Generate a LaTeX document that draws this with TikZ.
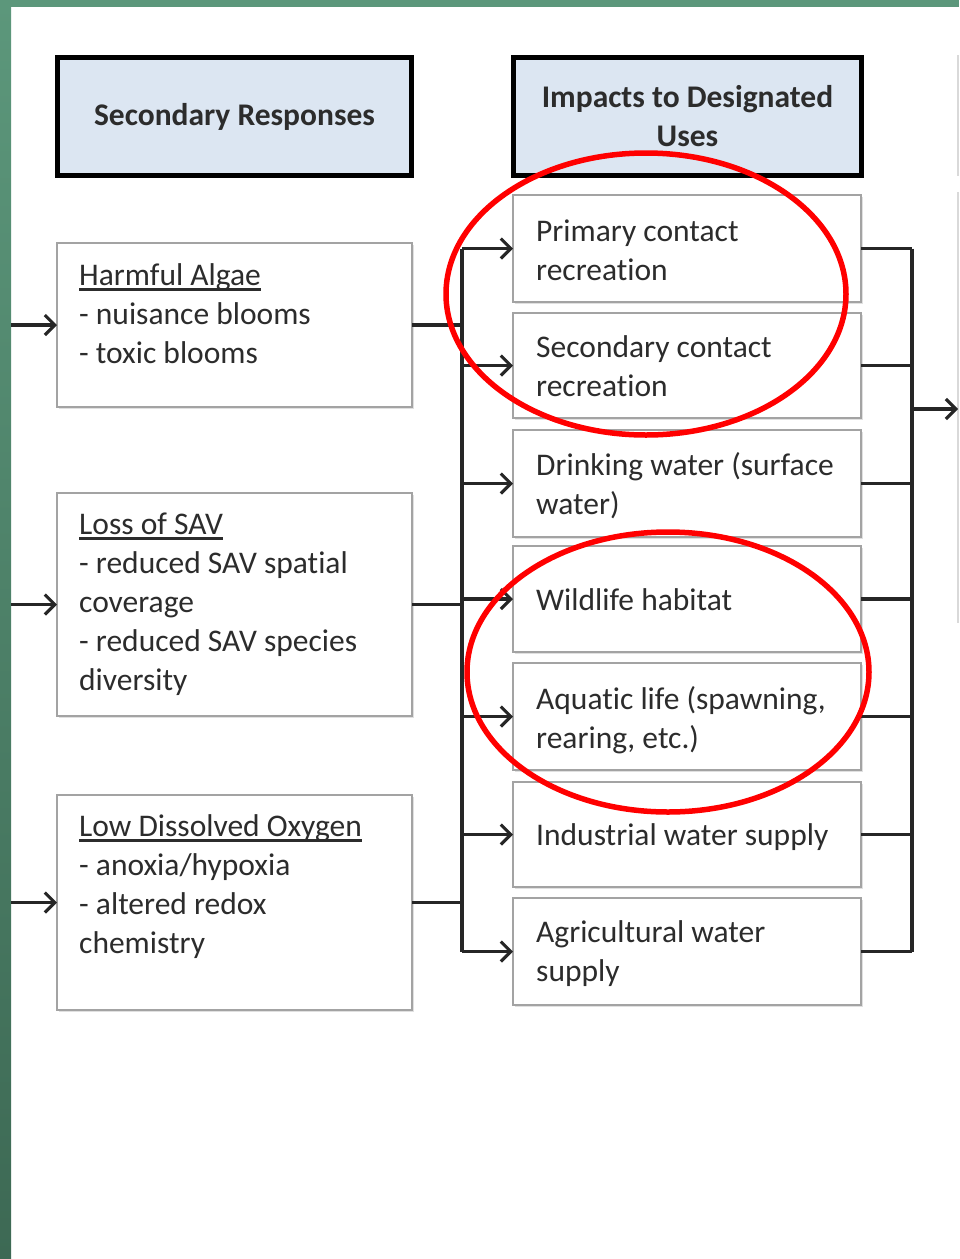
\documentclass[tikz,border=0pt]{standalone}
\usepackage{fontspec}
\setmainfont{Carlito}[Ligatures=NoCommon]
\usetikzlibrary{arrows.meta,shadows}

\definecolor{slidegreen}{HTML}{5C977B}
\definecolor{slidegreendark}{HTML}{3D6954}
\definecolor{headfill}{HTML}{DCE6F2}
\definecolor{boxline}{HTML}{A3A3A3}
\definecolor{ink}{HTML}{2C2C2C}
\definecolor{wire}{HTML}{262626}
\definecolor{edgegrey}{HTML}{D9D9D9}

% underlined box title with a thick rule just below the baseline
\newcommand{\undl}[1]{\leavevmode\setbox0\hbox{#1}\rlap{\rule[-5.5pt]{\wd0}{2.5pt}}\box0}

\begin{document}
\begin{tikzpicture}[x=1pt,y=-1pt,
  header/.style={draw=black, line width=4.5pt, fill=headfill, anchor=north west,
    inner sep=0pt, outer sep=0pt, text=ink, align=center,
    font=\bfseries\fontsize{31.5}{39}\selectfont,
    drop shadow={shadow xshift=1.5pt, shadow yshift=-1.5pt, fill=black, opacity=0.18}},
  itembox/.style={draw=boxline, line width=2.2pt, fill=white, anchor=north west,
    inner sep=0pt, outer sep=0pt,
    drop shadow={shadow xshift=1.5pt, shadow yshift=-1.5pt, fill=black, opacity=0.12}},
  txt/.style={anchor=base west, inner sep=0pt, text=ink,
    font=\fontsize{31.5}{39}\selectfont},
  wireline/.style={draw=wire, line width=3.1pt},
  feed/.style={wireline, -{Straight Barb[length=10pt, width=20pt, line width=3.1pt]}},
  ringmark/.style={draw=red, line width=5.5pt}
]
\useasboundingbox (0,0) rectangle (959,1259);
\fill[white] (0,0) rectangle (959,1259);

% slide frame
\fill[slidegreen] (0,0) rectangle (959,7);
\shade[top color=slidegreen, bottom color=slidegreendark] (0,0) rectangle (11,1259);

% edges of boxes cut off at the right
\draw[edgegrey, line width=1.2pt] (958,55) -- (958,176);
\draw[edgegrey, line width=1.2pt] (958,192) -- (958,623);

% column headers
\node[header, minimum width=354pt, minimum height=118pt] (h1) at (57.5,57.5) {Secondary Responses};
\node[header, minimum width=348pt, minimum height=118pt] (h2) at (513.5,57.5) {Impacts to Designated\\Uses};

% secondary responses
\node[itembox, minimum width=355pt, minimum height=164pt] (ha) at (57,243) {};
\node[itembox, minimum width=355pt, minimum height=223pt] (sav) at (57,493) {};
\node[itembox, minimum width=355pt, minimum height=215pt] (ldo) at (57,795) {};

\node[txt] (ha-t) at (79,285) {\parbox[t]{320pt}{\raggedright\undl{Harmful Algae}\\- nuisance blooms\\- toxic blooms}};
\node[txt] (sav-t) at (79,534) {\parbox[t]{320pt}{\raggedright\undl{Loss of SAV}\\- reduced SAV spatial\\coverage\\- reduced SAV species\\diversity}};
\node[txt] (ldo-t) at (79,836) {\parbox[t]{320pt}{\raggedright\undl{Low Dissolved Oxygen}\\- anoxia/hypoxia\\- altered redox\\chemistry}};

% designated uses
\node[itembox, minimum width=348pt, minimum height=107pt] (u1) at (513,195) {};
\node[itembox, minimum width=348pt, minimum height=105pt] (u2) at (513,313) {};
\node[itembox, minimum width=348pt, minimum height=107pt] (u3) at (513,430) {};
\node[itembox, minimum width=348pt, minimum height=106pt] (u4) at (513,546) {};
\node[itembox, minimum width=348pt, minimum height=107pt] (u5) at (513,663) {};
\node[itembox, minimum width=348pt, minimum height=105pt] (u6) at (513,782) {};
\node[itembox, minimum width=348pt, minimum height=107pt] (u7) at (513,898) {};

\node[txt] (u1-t) at (536,241) {\parbox[t]{320pt}{\raggedright Primary contact\\recreation}};
\node[txt] (u2-t) at (536,357) {\parbox[t]{320pt}{\raggedright Secondary contact\\recreation}};
\node[txt] (u3-t) at (536,475) {\parbox[t]{320pt}{\raggedright Drinking water (surface\\water)}};
\node[txt] (u4-t) at (536,610) {Wildlife habitat};
\node[txt] (u5-t) at (536,709) {\parbox[t]{320pt}{\raggedright Aquatic life (spawning,\\rearing, etc.)}};
\node[txt] (u6-t) at (536,845) {Industrial water supply};
\node[txt] (u7-t) at (536,942) {\parbox[t]{320pt}{\raggedright Agricultural water\\supply}};

% bus positions and free ends
\coordinate (busL) at (462,0);
\coordinate (busR) at (912,0);
\coordinate (inEdge) at (11,0);
\coordinate (out) at (958,409);

% incoming arrows
\foreach \b in {ha,sav,ldo}
  \draw[feed] (\b.west -| inEdge) -- (\b.west);

% secondary responses onto the left bus
\foreach \b in {ha,sav,ldo}
  \draw[wireline] (\b.east) -- (\b.east -| busL);
\draw[wireline] (u1.west -| busL) -- (u7.west -| busL);
\foreach \u in {u1,u2,u3,u4,u5,u6,u7}
  \draw[feed] (\u.west -| busL) -- (\u.west);

% designated uses onto the right bus
\foreach \u in {u1,u2,u3,u4,u5,u6,u7}
  \draw[wireline] (\u.east) -- (\u.east -| busR);
\draw[wireline] (u1.east -| busR) -- (u7.east -| busR);
\draw[feed] (out -| busR) -- (out);

% highlighted groups
\draw[ringmark] (646,294) ellipse [x radius=200, y radius=141];
\draw[ringmark] (668,672) ellipse [x radius=201, y radius=140];
\end{tikzpicture}
\end{document}
